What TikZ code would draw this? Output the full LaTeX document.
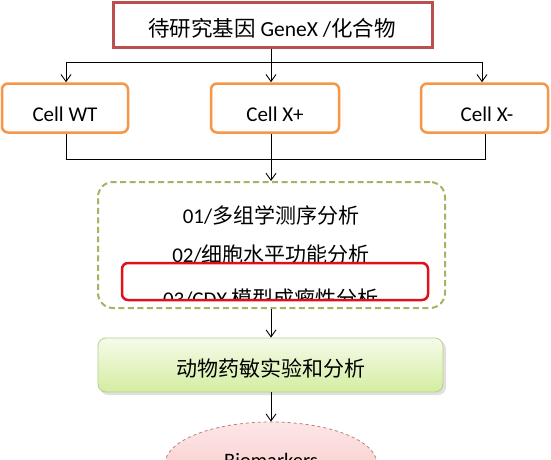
\documentclass[tikz,border=0pt]{standalone}
\usepackage{fontspec}
\setmainfont{Carlito}
\newfontfamily\cjk{Noto Sans CJK SC}
\usetikzlibrary{arrows.meta,shapes.geometric}
\definecolor{topred}{HTML}{B9504F}
\definecolor{cellorange}{HTML}{F79646}
\definecolor{olive}{HTML}{A3B463}
\definecolor{hired}{HTML}{E0101A}
\definecolor{greentop}{HTML}{F6FBEA}
\definecolor{greenbot}{HTML}{D3EDA0}
\definecolor{greenline}{HTML}{B7CF8E}
\definecolor{pinktop}{HTML}{FDE6E6}
\definecolor{pinkbot}{HTML}{F7C3C3}
\definecolor{pinkline}{HTML}{C07C7C}
\tikzset{
  txt/.style={font=\fontsize{21}{25}\selectfont, inner sep=0pt},
  cellbox/.style={draw=cellorange, line width=2.5pt, fill=white, rounded corners=6pt,
    minimum height=49pt, font=\fontsize{21}{25}\selectfont},
  conn/.style={line width=0.9pt, black},
  arr/.style={conn, -{Straight Barb[length=7pt,width=10pt,line width=0.9pt]}},
}
\begin{document}
\begin{tikzpicture}[x=1pt,y=-1pt]
\useasboundingbox (0,0) rectangle (551,460);
\clip (0,0) rectangle (551,460);
\fill[white] (0,0) rectangle (551,460);

% top box
\node[draw=topred, line width=3pt, fill=white, minimum width=319pt, minimum height=45pt,
  inner sep=0pt] (top) at (272.5,25) {};
\node[txt, font=\fontsize{21.5}{25}\selectfont] (toptxt) at (272,28) {{\cjk 待研究基因} GeneX /{\cjk 化合物}};

% cells
\node[cellbox, minimum width=126pt] (wt) at (65,108) {};
\node[txt] (wtt) at (65,114) {Cell WT};
\node[cellbox, minimum width=128pt] (xp) at (275,108) {};
\node[txt] (xpt) at (275,114) {Cell X+};
\node[cellbox, minimum width=127pt] (xm) at (484.5,108) {};
\node[txt] (xmt) at (487,114) {Cell X-};

% top bus
\coordinate (j1) at (271,62);
\coordinate (jl) at (66,62);
\coordinate (jr) at (482,62);
\draw[conn] (top.south -| j1) -- (j1);
\draw[conn] (jl) -- (jr);
\draw[arr] (jl) -- (jl |- wt.north);
\draw[arr] (j1) -- (j1 |- xp.north);
\draw[arr] (jr) -- (jr |- xm.north);

% bottom bus
\coordinate (b1) at (271,159);
\coordinate (bl) at (66,159);
\coordinate (br) at (485,159);
\draw[conn] (bl |- wt.south) -- (bl) -- (br) -- (br |- xm.south);
\draw[conn] (b1 |- xp.south) -- (b1);

% dashed box
\node[draw=olive, line width=2pt, dash pattern=on 6pt off 3.5pt, rounded corners=15pt,
  minimum width=347pt, minimum height=126pt, inner sep=0pt] (dbox) at (271.5,245) {};
\draw[arr] (b1) -- (b1 |- dbox.north);

\node[txt] (l1) at (271,215) {01/{\cjk 多组学测序分析}};
\node[txt] (l2) at (271,255) {02/{\cjk 细胞水平功能分析}};
\begin{scope}
  \clip (100,180) rectangle (445,298);
  \node[txt] (l3) at (271,299) {03/CDX {\cjk 模型成瘤性分析}};
\end{scope}
\node[draw=hired, line width=2.5pt, rounded corners=6pt, minimum width=306pt,
  minimum height=37pt, inner sep=0pt] (red) at (275,281.5) {};

% green box
\fill[black!12, rounded corners=8pt] (100,341) rectangle (446,395);
\node[draw=greenline, line width=0.8pt, top color=greentop, bottom color=greenbot,
  rounded corners=8pt, minimum width=345pt, minimum height=54pt, inner sep=0pt]
  (green) at (270.5,365) {};
\node[txt] (gt) at (271,368) {\cjk 动物药敏实验和分析};
\draw[arr] (dbox.south -| b1) -- (green.north -| b1);

% ellipse
\node[ellipse, draw=pinkline, line width=0.8pt, dashed, top color=pinktop, bottom color=pinkbot,
  minimum width=212pt, minimum height=84pt, inner sep=0pt] (bio) at (271,464) {};
\node[txt, font=\fontsize{20.5}{24}\selectfont] (biot) at (271,460) {Biomarkers};
\draw[arr] (green.south -| b1) -- (bio.north -| b1);
\end{tikzpicture}
\end{document}
